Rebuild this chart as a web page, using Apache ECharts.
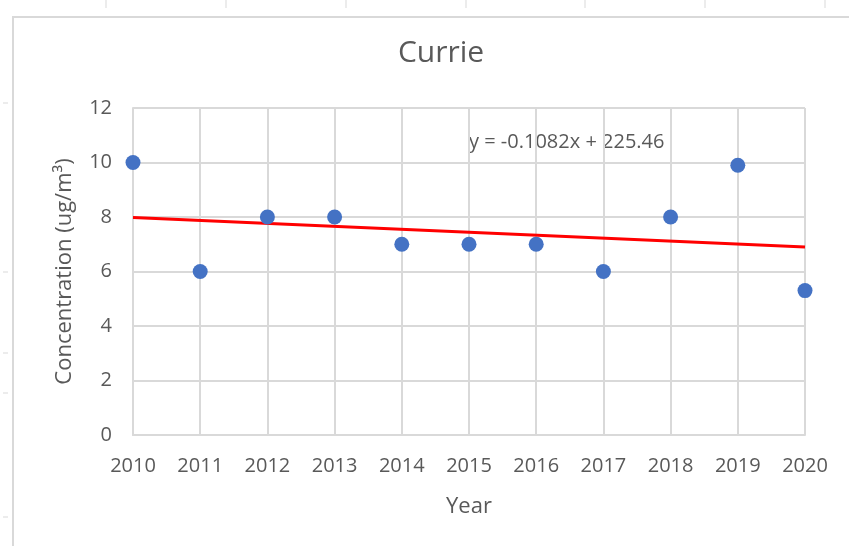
<!DOCTYPE html>
<html>
<head>
<meta charset="utf-8">
<script src="https://cdn.jsdelivr.net/npm/echarts@6/dist/echarts.min.js"></script>
<style>
html,body{margin:0;padding:0;background:#fff;}
#c{width:849px;height:546px;}
</style>
</head>
<body>
<div id="c"></div>
<script>
var years = [2010, 2011, 2012, 2013, 2014, 2015, 2016, 2017, 2018, 2019, 2020];
var concentration = [10, 6, 8, 8, 7, 7, 7, 6, 8, 9.9, 5.3];
var trendSlope = -0.1082;
var trendIntercept = 225.46;
var trendYears = [2010, 2020];
var yTicks = [0, 2, 4, 6, 8, 10, 12];

var font = 'Open Sans, Noto Sans, sans-serif';
var txt = '#595959';
var gridCol = '#d9d9d9';

var chart = echarts.init(document.getElementById('c'), null, {renderer: 'canvas'});
var scatterData = years.map(function (y, i) { return [y, concentration[i]]; });
var trendData = trendYears.map(function (y) { return [y, trendSlope * y + trendIntercept]; });

var option = {
  backgroundColor: '#ffffff',
  animation: false,
  title: {
    text: 'Currie',
    left: 436, top: 33, textAlign: 'center',
    textStyle: {fontFamily: font, fontSize: 30, fontWeight: 'normal', color: txt}
  },
  grid: {left: 133, right: 44, top: 108, bottom: 111, containLabel: false},
  xAxis: {
    type: 'value', min: 2010, max: 2020, interval: 1,
    name: 'Year', nameLocation: 'middle', nameGap: 61,
    nameTextStyle: {fontFamily: font, fontSize: 22, color: txt},
    axisLine: {show: true, lineStyle: {color: gridCol, width: 2}},
    axisTick: {show: false},
    axisLabel: {fontFamily: font, fontSize: 20, color: txt, margin: 21,
      formatter: function (v) { return String(v); }},
    splitLine: {show: true, lineStyle: {color: gridCol, width: 2}}
  },
  yAxis: {
    type: 'value', min: 0, max: 12, interval: 2,
    name: 'Concentration (ug/m³)', nameLocation: 'middle', nameGap: 57,
    nameTextStyle: {fontFamily: font, fontSize: 22, color: txt},
    axisLine: {show: true, lineStyle: {color: gridCol, width: 2}},
    axisTick: {show: false},
    axisLabel: {fontFamily: font, fontSize: 20, color: txt, margin: 21},
    splitLine: {show: true, lineStyle: {color: gridCol, width: 2}}
  },
  series: [
    {
      type: 'line', data: trendData, symbol: 'none',
      lineStyle: {color: '#ff0000', width: 3}, z: 3, silent: true
    },
    {
      type: 'scatter', data: scatterData, symbolSize: 15,
      itemStyle: {color: '#4472c4', opacity: 1}, z: 4
    }
  ],
  graphic: [
    {type: 'text', left: 469, top: 132,
     style: {text: 'y = -0.1082x + 225.46', fontFamily: font, fontSize: 20, fill: txt}},
    {type: 'rect', shape: {x: 13, y: 17, width: 900, height: 600},
     style: {fill: 'none', stroke: gridCol, lineWidth: 2}, silent: true}
  ]
};
var topTicks = [106, 226, 346, 466, 585, 705, 825];
topTicks.forEach(function (x) {
  option.graphic.push({type: 'line', shape: {x1: x, y1: 0, x2: x, y2: 8},
    style: {stroke: gridCol, lineWidth: 1}, silent: true});
});
var leftTicks = [103, 272, 353, 393, 517];
leftTicks.forEach(function (y) {
  option.graphic.push({type: 'line', shape: {x1: 3, y1: y, x2: 8, y2: y},
    style: {stroke: gridCol, lineWidth: 1}, silent: true});
});
chart.setOption(option);
</script>
</body>
</html>
